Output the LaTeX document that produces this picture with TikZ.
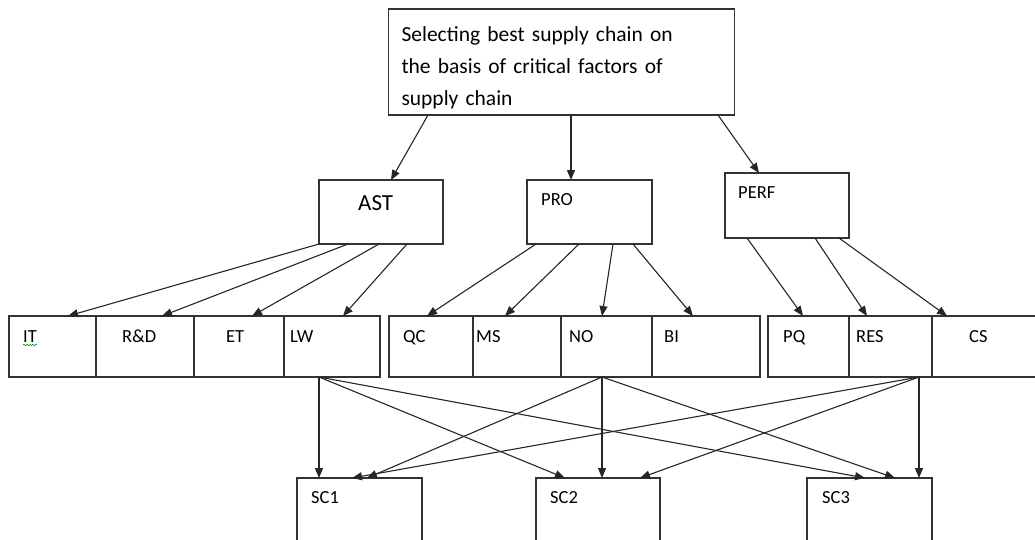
\documentclass[tikz,border=0pt]{standalone}
\usepackage{fontspec}
\setmainfont{Carlito}
\usetikzlibrary{arrows.meta,decorations.pathmorphing}

\tikzset{
  box/.style={draw=black!80, line width=1.2pt, inner sep=0pt, outer sep=0pt},
  cell/.style={box, minimum height=61pt},
  scbox/.style={box, minimum width=125pt, minimum height=92pt},
  arr/.style={-{Triangle[length=10pt,width=8pt]}, line width=1.1pt, black!85},
  lbl/.style={anchor=base west, inner sep=0pt, font=\fontsize{18.5}{22}\selectfont}
}

\begin{document}
\begin{tikzpicture}[x=1pt, y=-1pt]
      \useasboundingbox (0,0) rectangle (1035,539);
      \node[box, text width=320pt, inner xsep=13pt, minimum height=106pt, align=left, font=\fontsize{21.5}{32}\selectfont] (goal) at (561.5,62) {\rule{0pt}{27pt}Selecting best supply chain on\\the basis of critical factors of\\supply chain};
      \node[box, minimum width=124pt, minimum height=64pt] (ast) at (381,212) {};
      \node[box, minimum width=125pt, minimum height=64pt] (pro) at (589.5,212) {};
      \node[box, minimum width=124pt, minimum height=65pt] (perf) at (787,205.5) {};
      \node[lbl, font=\fontsize{23}{26}\selectfont] (astlbl) at (358,210) {AST};
      \node[lbl] (prolbl) at (541,205) {PRO};
      \node[lbl] (perflbl) at (738,198) {PERF};
      % factors
      \node[cell, minimum width=87pt] (it) at (52.5,346.5) {};
      \node[cell, minimum width=98pt] (rd) at (145,346.5) {};
      \node[cell, minimum width=90pt] (et) at (239,346.5) {};
      \node[cell, minimum width=96pt] (lw) at (332,346.5) {};
      \node[cell, minimum width=84pt] (qc) at (431,346.5) {};
      \node[cell, minimum width=88pt] (ms) at (517,346.5) {};
      \node[cell, minimum width=91pt] (no) at (606.5,346.5) {};
      \node[cell, minimum width=108pt] (bi) at (706,346.5) {};
      \node[cell, minimum width=81pt] (pq) at (808.5,346.5) {};
      \node[cell, minimum width=83pt] (res) at (890.5,346.5) {};
      \node[cell, minimum width=110pt] (cs) at (987,346.5) {};
      \node[lbl] (itlbl) at (23,342) {IT};
      \node[lbl] (rdlbl) at (122,342) {R\&D};
      \node[lbl] (etlbl) at (226,342) {ET};
      \node[lbl] (lwlbl) at (290,342) {LW};
      \node[lbl] (qclbl) at (403,342) {QC};
      \node[lbl] (mslbl) at (476,342) {MS};
      \node[lbl] (nolbl) at (569,342) {NO};
      \node[lbl] (bilbl) at (664,342) {BI};
      \node[lbl] (pqlbl) at (783,342) {PQ};
      \node[lbl] (reslbl) at (856,342) {RES};
      \node[lbl] (cslbl) at (969,342) {CS};
      \draw[green!60!black, line width=0.6pt, decorate, decoration={snake, amplitude=0.8pt, segment length=3pt}] ([yshift=-3pt]itlbl.base west) -- ([yshift=-3pt]itlbl.base east);
      % supply chains
      \node[scbox] (sca) at (359.5,524) {};
      \node[scbox, minimum width=124pt] (scb) at (598,524) {};
      \node[scbox] (scc) at (869.5,524) {};
      \node[lbl] (scalbl) at (311,503) {SC1};
      \node[lbl] (scblbl) at (550,503) {SC2};
      \node[lbl] (scclbl) at (822,503) {SC3};
      % goal to criteria
      \draw[arr] ([xshift=-133.5pt]goal.south) -- ([xshift=10pt]ast.north);
      \draw[arr] ([xshift=9.5pt]goal.south) -- ([xshift=-18.5pt]pro.north);
      \draw[arr] ([xshift=156.5pt]goal.south) -- ([xshift=-28pt]perf.north);
      % criteria to factors
      \draw[arr] (ast.south west) -- ([xshift=15.5pt]it.north);
      \draw[arr] ([xshift=-33pt]ast.south) -- ([xshift=17pt]rd.north);
      \draw[arr] ([xshift=-2pt]ast.south) -- ([xshift=13pt]et.north);
      \draw[arr] ([xshift=26pt]ast.south) -- ([xshift=11pt]lw.north);
      \draw[arr] ([xshift=-53.5pt]pro.south) -- ([xshift=-4pt]qc.north);
      \draw[arr] ([xshift=-10.5pt]pro.south) -- ([xshift=-12pt]ms.north);
      \draw[arr] ([xshift=23.5pt]pro.south) -- ([xshift=-4.5pt]no.north);
      \draw[arr] ([xshift=43.5pt]pro.south) -- ([xshift=-13pt]bi.north);
      \draw[arr] ([xshift=-40pt]perf.south) -- ([xshift=-5.5pt]pq.north);
      \draw[arr] ([xshift=28pt]perf.south) -- ([xshift=-23.5pt]res.north);
      \draw[arr] ([xshift=52pt]perf.south) -- ([xshift=-40pt]cs.north);
      % factors to supply chains
      \draw[arr] ([xshift=-13pt]lw.south) -- ([xshift=-40.5pt]sca.north);
      \draw[arr] ([xshift=-13pt]lw.south) -- ([xshift=-33pt]scb.north);
      \draw[arr] ([xshift=-13pt]lw.south) -- ([xshift=-4.5pt]scc.north);
      \draw[arr] ([xshift=-4.5pt]no.south) -- ([xshift=7.5pt]sca.north);
      \draw[arr] ([xshift=-4.5pt]no.south) -- ([xshift=4pt]scb.north);
      \draw[arr] ([xshift=-4.5pt]no.south) -- ([xshift=25.5pt]scc.north);
      \draw[arr] ([xshift=28.5pt]res.south) -- ([xshift=-7.5pt]sca.north);
      \draw[arr] ([xshift=28.5pt]res.south) -- ([xshift=42pt]scb.north);
      \draw[arr] ([xshift=28.5pt]res.south) -- ([xshift=49.5pt]scc.north);
\end{tikzpicture}
\end{document}
